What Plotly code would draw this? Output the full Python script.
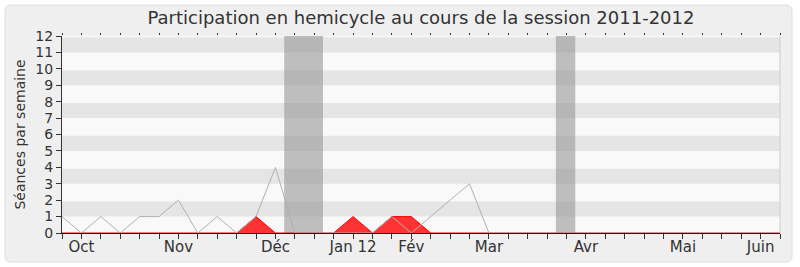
import plotly.graph_objects as go

# Weekly series, session 2011-2012 (week index 0 = first week of the session)
weeks = list(range(38))
seances_total = [1, 0, 1, 0, 1, 1, 2, 0, 1, 0, 1, 4, 0, 0, 0, 0, 0, 1, 0, 1,
                 2, 3, 0, 0, 0, 0, 0, 0, 0, 0, 0, 0, 0, 0, 0, 0, 0, 0]
seances_presence = [0, 0, 0, 0, 0, 0, 0, 0, 0, 0, 1, 0, 0, 0, 0, 1, 0, 1, 1, 0,
                    0, 0, 0, 0, 0, 0, 0, 0, 0, 0, 0, 0, 0, 0, 0, 0, 0, 0]
month_weeks = [1, 6, 11, 15, 18, 22, 27, 32, 36]
month_labels = ["Oct", "Nov", "Déc", "Jan 12", "Fév", "Mar", "Avr", "Mai", "Juin"]
vacances = [(11.45, 13.45), (25.45, 26.45)]
y_ticks = list(range(13))

W, H = 800, 267
L, R, T, B = 62, 20, 36, 34
pw, ph = W - L - R, H - T - B


def px_x(x):
    return (x - L) / pw


def px_y(y):
    return (H - B - y) / ph


shapes = []

# rounded panel behind the chart
x0, x1, y0, y1, r = 5, 792, 5, 262, 6
rx, ry = r / pw, r / ph
path = (f"M {px_x(x0)+rx},{px_y(y0)} L {px_x(x1)-rx},{px_y(y0)} "
        f"Q {px_x(x1)},{px_y(y0)} {px_x(x1)},{px_y(y0)-ry} "
        f"L {px_x(x1)},{px_y(y1)+ry} Q {px_x(x1)},{px_y(y1)} {px_x(x1)-rx},{px_y(y1)} "
        f"L {px_x(x0)+rx},{px_y(y1)} Q {px_x(x0)},{px_y(y1)} {px_x(x0)},{px_y(y1)+ry} "
        f"L {px_x(x0)},{px_y(y0)-ry} Q {px_x(x0)},{px_y(y0)} {px_x(x0)+rx},{px_y(y0)} Z")
shapes.append(dict(type="path", path=path, xref="paper", yref="paper",
                   fillcolor="#efefef", line=dict(color="#dedede", width=1),
                   layer="below"))

# plot area background
shapes.append(dict(type="rect", xref="paper", yref="paper", x0=0, x1=1, y0=0, y1=1,
                   fillcolor="#f9f9f9", line=dict(width=0), layer="below"))

# alternating horizontal stripes
for k in range(1, 12, 2):
    shapes.append(dict(type="rect", xref="paper", yref="y", x0=0, x1=1,
                       y0=k, y1=k + 0.92, fillcolor="#e5e5e5",
                       line=dict(width=0), layer="below"))

# holiday bands
for a, b in vacances:
    shapes.append(dict(type="rect", xref="x", yref="paper", x0=a, x1=b,
                       y0=0, y1=1, fillcolor="rgba(150,150,150,0.6)",
                       line=dict(width=0), layer="below"))

# right border of plot area
shapes.append(dict(type="line", xref="paper", yref="paper", x0=1, x1=1, y0=0, y1=1,
                   line=dict(color="#cccccc", width=1)))

fig = go.Figure()
fig.add_trace(go.Scatter(
    x=weeks, y=seances_presence, mode="lines", fill="tozeroy",
    fillcolor="rgba(255,40,40,0.95)", line=dict(color="#ff0000", width=1),
    hoverinfo="skip", showlegend=False))
fig.add_trace(go.Scatter(
    x=weeks, y=seances_total, mode="lines",
    line=dict(color="#b0b0b0", width=1), hoverinfo="skip", showlegend=False))
# carrier for the top tick axis
fig.add_trace(go.Scatter(x=[0], y=[0], xaxis="x2", mode="markers",
                         marker=dict(opacity=0), hoverinfo="skip", showlegend=False))

tick_text = ["" for _ in weeks]
for w, lab in zip(month_weeks, month_labels):
    tick_text[w] = lab

font_family = "DejaVu Sans"
fig.update_layout(
    width=W, height=H,
    margin=dict(l=L, r=R, t=T, b=B, autoexpand=False),
    paper_bgcolor="white", plot_bgcolor="rgba(0,0,0,0)",
    font=dict(family=font_family, color="#333333", size=15),
    title=dict(text="Participation en hemicycle au cours de la session 2011-2012",
               x=421 / W, xanchor="center",
               y=1 - 18 / H, yanchor="middle",
               font=dict(size=18, color="#333333", family=font_family)),
    shapes=shapes,
    xaxis=dict(range=[0, 37], tickmode="array", tickvals=weeks, ticktext=tick_text,
               ticks="outside", ticklen=5, tickcolor="#333333", showgrid=False,
               zeroline=False, showline=True, linecolor="#3a1010", linewidth=1,
               tickfont=dict(size=15, color="#333333"), automargin=False,
               ticklabelstandoff=-5, fixedrange=True),
    xaxis2=dict(range=[0, 37], overlaying="x", side="top", tickmode="array",
                tickvals=weeks, ticks="outside", ticklen=2, tickcolor="#333333",
                showticklabels=False, showgrid=False, zeroline=False, showline=False,
                automargin=False),
    yaxis=dict(range=[0, 12], tickmode="array", tickvals=y_ticks,
               ticks="outside", ticklen=5, tickcolor="#333333", showgrid=False,
               zeroline=False, showline=True, linecolor="#333333", linewidth=1,
               tickfont=dict(size=14, color="#333333"), automargin=False,
               title=dict(text="Séances par semaine", standoff=6,
                          font=dict(size=14, color="#333333"))),
)

fig.write_html("out.html")
